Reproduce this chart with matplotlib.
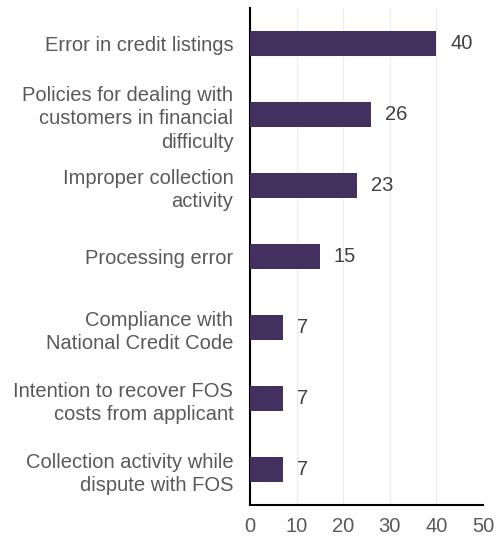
import matplotlib
matplotlib.use("Agg")
import matplotlib.pyplot as plt

categories = [
    "Error in credit listings",
    "Policies for dealing with\ncustomers in financial\ndifficulty",
    "Improper collection\nactivity",
    "Processing error",
    "Compliance with\nNational Credit Code",
    "Intention to recover FOS\ncosts from applicant",
    "Collection activity while\ndispute with FOS",
]
values = [40, 26, 23, 15, 7, 7, 7]
xticks = [0, 10, 20, 30, 40, 50]

plt.rcParams['font.family'] = ['Liberation Sans', 'DejaVu Sans']
text_color = '#595959'
bar_color = '#44305e'

fig = plt.figure(figsize=(4.97, 5.4), dpi=100)
ax = fig.add_axes([250/497, 35/540, 233/497, 497/540])

ypos = list(range(len(categories)))
ax.barh(ypos, values, height=0.35, color=bar_color, zorder=3)
for y, v in zip(ypos, values):
    ax.annotate(str(v), xy=(v, y), xytext=(10, 0), textcoords='offset points',
                va='center', ha='left', fontsize=14.5, color='#404040')

ax.set_ylim(len(categories) - 0.5, -0.5)
ax.set_xlim(0, 50)
ax.set_yticks(ypos)
ax.set_yticklabels(categories, fontsize=14.5, color=text_color, linespacing=1.3)
ax.set_xticks(xticks)
ax.set_xticklabels([str(t) for t in xticks], fontsize=14.5, color=text_color)
ax.tick_params(axis='y', length=0, pad=12)
ax.tick_params(axis='x', length=0, pad=9)
ax.grid(axis='x', color='#ececec', linewidth=0.8, zorder=0)
for s in ['top', 'right']:
    ax.spines[s].set_visible(False)
for s in ['left', 'bottom']:
    ax.spines[s].set_color('black')
    ax.spines[s].set_linewidth(1.5)

fig.savefig('out.png', dpi=100)
